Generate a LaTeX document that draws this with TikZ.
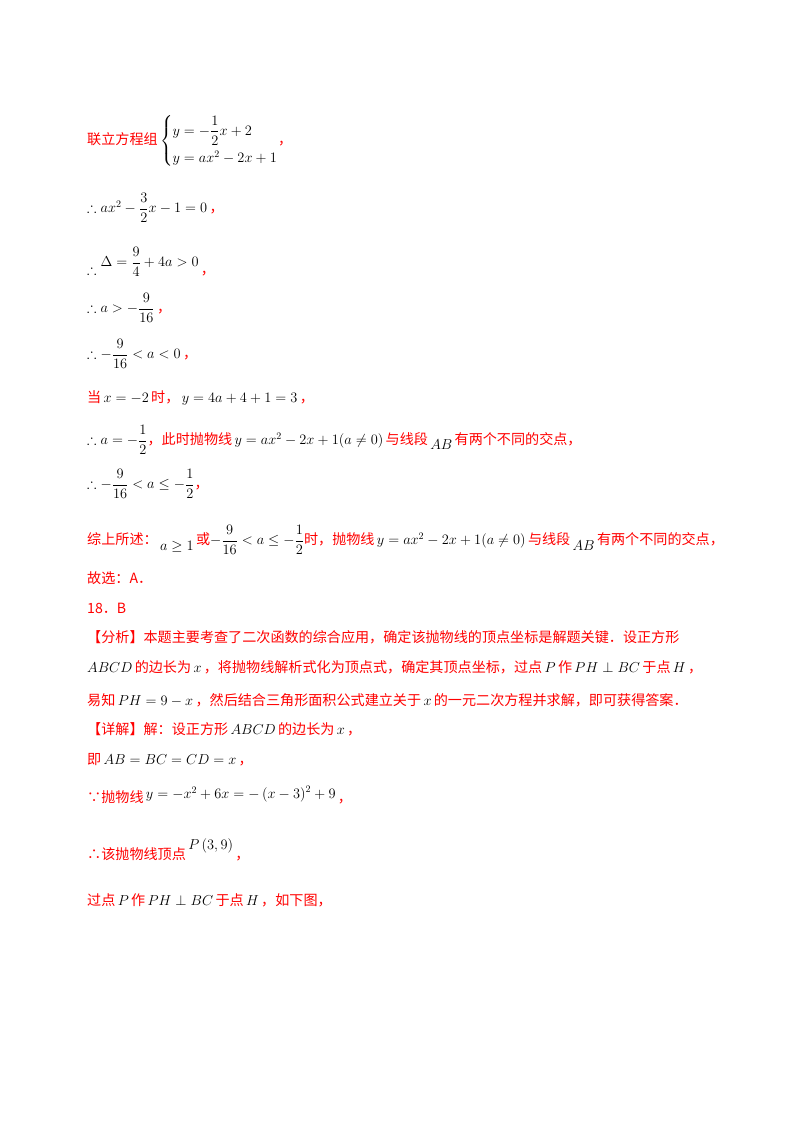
\documentclass[tikz,border=0pt]{standalone}
\usepackage{amsmath,amssymb}
\usepackage{fontspec}
\setmainfont{Noto Sans CJK SC}
\newcommand{\Rd}[1]{\textcolor{red}{#1}}
\begin{document}
\begin{tikzpicture}[x=1pt,y=-1pt,
  ln/.style={anchor=west,inner sep=0pt,font=\fontsize{14.1}{17}\selectfont}]
\useasboundingbox[fill=white] (0,0) rectangle (800,1132);
\node[ln] (l1) at (87,141) {\Rd{联立方程组}\,$\left\{\vcenter{\hbox{$y=-\dfrac12x+2$}\kern5pt\hbox{$y=ax^2-2x+1$}}\right.$\Rd{，}};
\node[ln] (l2) at (87,208) {$\therefore ax^2-\dfrac32x-1=0$\,\Rd{，}};
\node[ln] (l3) at (87,262) {$\therefore\raisebox{8pt}{$\Delta=\dfrac94+4a>0$}$\,\Rd{，}};
\node[ln] (l4) at (87,308) {$\therefore a>-\dfrac{9}{16}$\,\Rd{，}};
\node[ln] (l5) at (87,354) {$\therefore -\dfrac{9}{16}<a<0$\,\Rd{，}};
\node[ln] (l6) at (87,398) {\Rd{当}\,$x=-2$\,\Rd{时，}\,$y=4a+4+1=3$\,\Rd{，}};
\node[ln] (l7) at (87,440) {$\therefore a=-\dfrac12$\Rd{，此时抛物线}\,$y=ax^2-2x+1(a\neq0)$\,\Rd{与线段}\,\raisebox{-5pt}{$AB$}\,\Rd{有两个不同的交点，}};
\node[ln] (l8) at (87,484) {$\therefore -\dfrac{9}{16}<a\le-\dfrac12$\Rd{，}};
\node[ln] (l9) at (87,540) {\Rd{综上所述：}\,\raisebox{-6pt}{$a\ge1$}\,\Rd{或}$-\dfrac{9}{16}<a\le-\dfrac12$\Rd{时，抛物线}\,$y=ax^2-2x+1(a\neq0)$\,\Rd{与线段}\,\raisebox{-6pt}{$AB$}\,\Rd{有两个不同的交点，}};
\node[ln] (l10) at (87,578) {\Rd{故选：A．}};
\node[ln] (l11) at (87,608) {\Rd{18．B}};
\node[ln] (l12) at (87,637) {\Rd{【分析】本题主要考查了二次函数的综合应用，确定该抛物线的顶点坐标是解题关键．设正方形}};
\node[ln] (l13) at (87,667) {$ABCD$\,\Rd{的边长为}\,$x$\,\Rd{，将抛物线解析式化为顶点式，确定其顶点坐标，过点}\,$P$\,\Rd{作}\,$PH\perp BC$\,\Rd{于点}\,$H$\,\Rd{，}};
\node[ln] (l14) at (87,700) {\Rd{易知}\,$PH=9-x$\,\Rd{，然后结合三角形面积公式建立关于}\,$x$\,\Rd{的一元二次方程并求解，即可获得答案．}};
\node[ln] (l15) at (87,729) {\Rd{【详解】解：设正方形}\,$ABCD$\,\Rd{的边长为}\,$x$\,\Rd{，}};
\node[ln] (l16) at (87,760) {\Rd{即}\,$AB=BC=CD=x$\,\Rd{，}};
\node[ln] (l17) at (87,795) {\Rd{∵抛物线}\,\raisebox{4pt}{$y=-x^2+6x=-\left(x-3\right)^2+9$}\,\Rd{，}};
\node[ln] (l18) at (87,850) {\Rd{∴该抛物线顶点}\,\raisebox{10pt}{$P\left(3,9\right)$}\,\Rd{，}};
\node[ln] (l19) at (87,900) {\Rd{过点}\,$P$\,\Rd{作}\,$PH\perp BC$\,\Rd{于点}\,$H$\,\Rd{，如下图，}};
\end{tikzpicture}
\end{document}
